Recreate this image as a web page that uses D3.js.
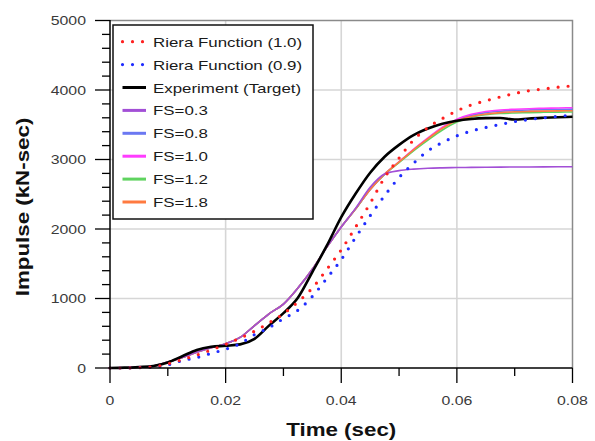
<!DOCTYPE html>
<html><head><meta charset="utf-8">
<script src="https://cdn.jsdelivr.net/npm/d3@7"></script>
<style>html,body{margin:0;padding:0;background:#fff;}svg{display:block;}</style>
</head><body>
<svg id="chart" width="595" height="441"></svg>
<script>
const time = [0,0.0025,0.005,0.0075,0.01,0.0125,0.015,0.0175,0.02,0.0225,0.025,0.0275,0.03,0.0325,0.035,0.0375,0.04,0.0425,0.045,0.0475,0.05,0.0525,0.055,0.0575,0.06,0.0625,0.065,0.0675,0.07,0.0725,0.075,0.0775,0.08];
const riera10 = [0,0,5,15,60,120,185,260,340,430,530,650,780,950,1150,1420,1700,2030,2370,2740,3020,3280,3460,3590,3700,3785,3845,3900,3950,3990,4015,4040,4060];
const riera09 = [0,0,5,12,45,105,150,210,270,350,480,580,710,830,1030,1290,1560,1880,2190,2480,2740,2945,3125,3245,3340,3410,3460,3505,3545,3575,3600,3620,3640];
const experiment = [0,5,15,30,80,170,260,305,320,340,420,610,790,1010,1380,1760,2170,2510,2810,3040,3210,3350,3445,3515,3558,3583,3595,3598,3575,3590,3600,3608,3615];
const fs03 = [0,3,10,30,85,150,225,290,350,440,610,780,920,1150,1420,1740,2030,2300,2600,2790,2840,2862,2874,2880,2884,2887,2889,2891,2892,2893,2894,2895,2896];
const fs08 = [0,3,10,30,85,150,225,290,350,440,610,780,920,1150,1420,1740,2030,2290,2570,2790,2965,3140,3300,3455,3570,3635,3675,3695,3706,3713,3718,3722,3725];
const fs10 = [0,3,10,30,85,150,225,290,350,440,610,780,920,1150,1420,1740,2030,2290,2570,2790,2965,3145,3310,3465,3580,3650,3690,3712,3723,3731,3737,3742,3745];
const fs12 = [0,3,10,30,85,150,225,290,350,440,610,780,920,1150,1420,1740,2030,2290,2570,2785,2955,3125,3280,3425,3540,3610,3645,3662,3670,3675,3679,3682,3684];
const fs18 = [0,3,10,30,85,150,225,290,350,440,610,780,920,1150,1420,1740,2030,2290,2570,2790,2965,3140,3300,3450,3560,3620,3655,3675,3686,3692,3696,3699,3702];
const seriesNames = ["Riera Function (1.0)","Riera Function (0.9)","Experiment (Target)","FS=0.3","FS=0.8","FS=1.0","FS=1.2","FS=1.8"];
const xTicks = [0,0.02,0.04,0.06,0.08];
const xTickLabels = ["0","0.02","0.04","0.06","0.08"];
const xMinorTicks = [0.01,0.03,0.05,0.07];
const yTicks = [0,1000,2000,3000,4000,5000];
const yTickLabels = ["0","1000","2000","3000","4000","5000"];
const yMinorTicks = d3.range(0,5001,200).filter(v=>v%1000!==0);

const FONT = "'Liberation Sans', Arial, sans-serif";
const svg = d3.select("#chart");
const x = d3.scaleLinear().domain([0,0.08]).range([110,572.5]);
const y = d3.scaleLinear().domain([0,5000]).range([368,20.5]);

function stretch(sel,k){sel.each(function(){const w=this.getComputedTextLength();d3.select(this).attr("textLength",w*k).attr("lengthAdjust","spacingAndGlyphs");});}

// grid
const g = svg.append("g");
g.selectAll(".vg").data(xTicks.slice(1,-1)).join("line")
  .attr("x1",d=>x(d)).attr("x2",d=>x(d)).attr("y1",y(5000)).attr("y2",y(0))
  .attr("stroke","#d6d6d6").attr("stroke-width",1.6);
g.selectAll(".hg").data(yTicks.slice(1,-1)).join("line")
  .attr("y1",d=>y(d)).attr("y2",d=>y(d)).attr("x1",x(0)).attr("x2",x(0.08))
  .attr("stroke","#d6d6d6").attr("stroke-width",1.6);
// top/right frame
svg.append("path").attr("d",`M${x(0)},${y(5000)}H${x(0.08)}V${y(0)}`)
  .attr("fill","none").attr("stroke","#8a8a8a").attr("stroke-width",1.5);

// series
const line = d3.line().x((d,i)=>x(time[i])).y(d=>y(d)).curve(d3.curveMonotoneX);
const styles = [
  {data:riera10,color:"#ff2020",w:3.2,dash:"0 10",cap:"round"},
  {data:riera09,color:"#1f2cff",w:3.2,dash:"0 10",cap:"round"},
  {data:experiment,color:"#000",w:2.6},
  {data:fs03,color:"#a24fd6",w:1.6},
  {data:fs08,color:"#6b78f2",w:1.6},
  {data:fs10,color:"#ff3cff",w:1.6},
  {data:fs12,color:"#5fd35f",w:1.6},
  {data:fs18,color:"#ff7a40",w:1.6}
];
const order = [4,5,6,7,3,2,1,0];
const lg = svg.append("g");
order.forEach(i=>{
  const s=styles[i];
  lg.append("path").datum(s.data).attr("d",line).attr("fill","none")
    .attr("stroke",s.color).attr("stroke-width",s.w)
    .attr("stroke-dasharray",s.dash||null).attr("stroke-linecap",s.cap||"butt")
    .attr("stroke-linejoin","round");
});

// axes
const ax = svg.append("g");
ax.append("line").attr("x1",x(0)).attr("x2",x(0)).attr("y1",y(5000)-0.5).attr("y2",y(0)+0.7).attr("stroke","#000").attr("stroke-width",1.5);
ax.append("line").attr("x1",x(0)-0.7).attr("x2",x(0.08)).attr("y1",y(0)).attr("y2",y(0)).attr("stroke","#000").attr("stroke-width",1.5);
ax.selectAll(".yt").data(yTicks).join("line").attr("x1",95).attr("x2",x(0)).attr("y1",d=>y(d)).attr("y2",d=>y(d)).attr("stroke","#000").attr("stroke-width",1.3);
ax.selectAll(".ymt").data(yMinorTicks).join("line").attr("x1",102).attr("x2",x(0)).attr("y1",d=>y(d)).attr("y2",d=>y(d)).attr("stroke","#000").attr("stroke-width",1.3);
ax.selectAll(".xt").data(xTicks).join("line").attr("x1",d=>x(d)).attr("x2",d=>x(d)).attr("y1",y(0)).attr("y2",383).attr("stroke","#000").attr("stroke-width",1.3);
ax.selectAll(".xmt").data(xMinorTicks).join("line").attr("x1",d=>x(d)).attr("x2",d=>x(d)).attr("y1",y(0)).attr("y2",376).attr("stroke","#000").attr("stroke-width",1.3);

ax.selectAll(".yl").data(yTicks).join("text").attr("x",86).attr("y",d=>y(d)+4.7)
  .attr("text-anchor","end").attr("font-family",FONT).attr("font-size",13).attr("fill","#3a3a3a")
  .text((d,i)=>yTickLabels[i]).call(stretch,1.22);
ax.selectAll(".xl").data(xTicks).join("text").attr("x",d=>x(d)).attr("y",404.5)
  .attr("text-anchor","middle").attr("font-family",FONT).attr("font-size",13).attr("fill","#3a3a3a")
  .text((d,i)=>xTickLabels[i]).call(stretch,1.22);

svg.append("text").attr("x",(x(0)+x(0.08))/2).attr("y",436).attr("text-anchor","middle")
  .attr("font-family",FONT).attr("font-weight","bold").attr("font-size",18).attr("fill","#111")
  .text("Time (sec)").call(stretch,1.24);
svg.append("text").attr("transform","translate(29,207) rotate(-90)").attr("text-anchor","middle")
  .attr("font-family",FONT).attr("font-weight","bold").attr("font-size",18).attr("fill","#111")
  .text("Impulse (kN-sec)").call(stretch,1.24);

// legend
const leg = svg.append("g");
leg.append("rect").attr("x",113).attr("y",25).attr("width",200).attr("height",194)
  .attr("fill","#fff").attr("stroke","#111").attr("stroke-width",1.5);
seriesNames.forEach((name,i)=>{
  const s=styles[i]; const cy=41.7+i*22.9;
  leg.append("line").attr("x1",122.5).attr("x2",i<2?145:146).attr("y1",cy).attr("y2",cy)
    .attr("stroke",s.color).attr("stroke-width",i<2?3.2:3)
    .attr("stroke-dasharray",s.dash||null).attr("stroke-linecap",s.cap||"butt");
  leg.append("text").attr("x",153).attr("y",cy+5).attr("font-family",FONT).attr("font-size",13.5)
    .attr("fill","#1a1a1a").text(name).call(stretch,1.25);
});
</script>
</body></html>
